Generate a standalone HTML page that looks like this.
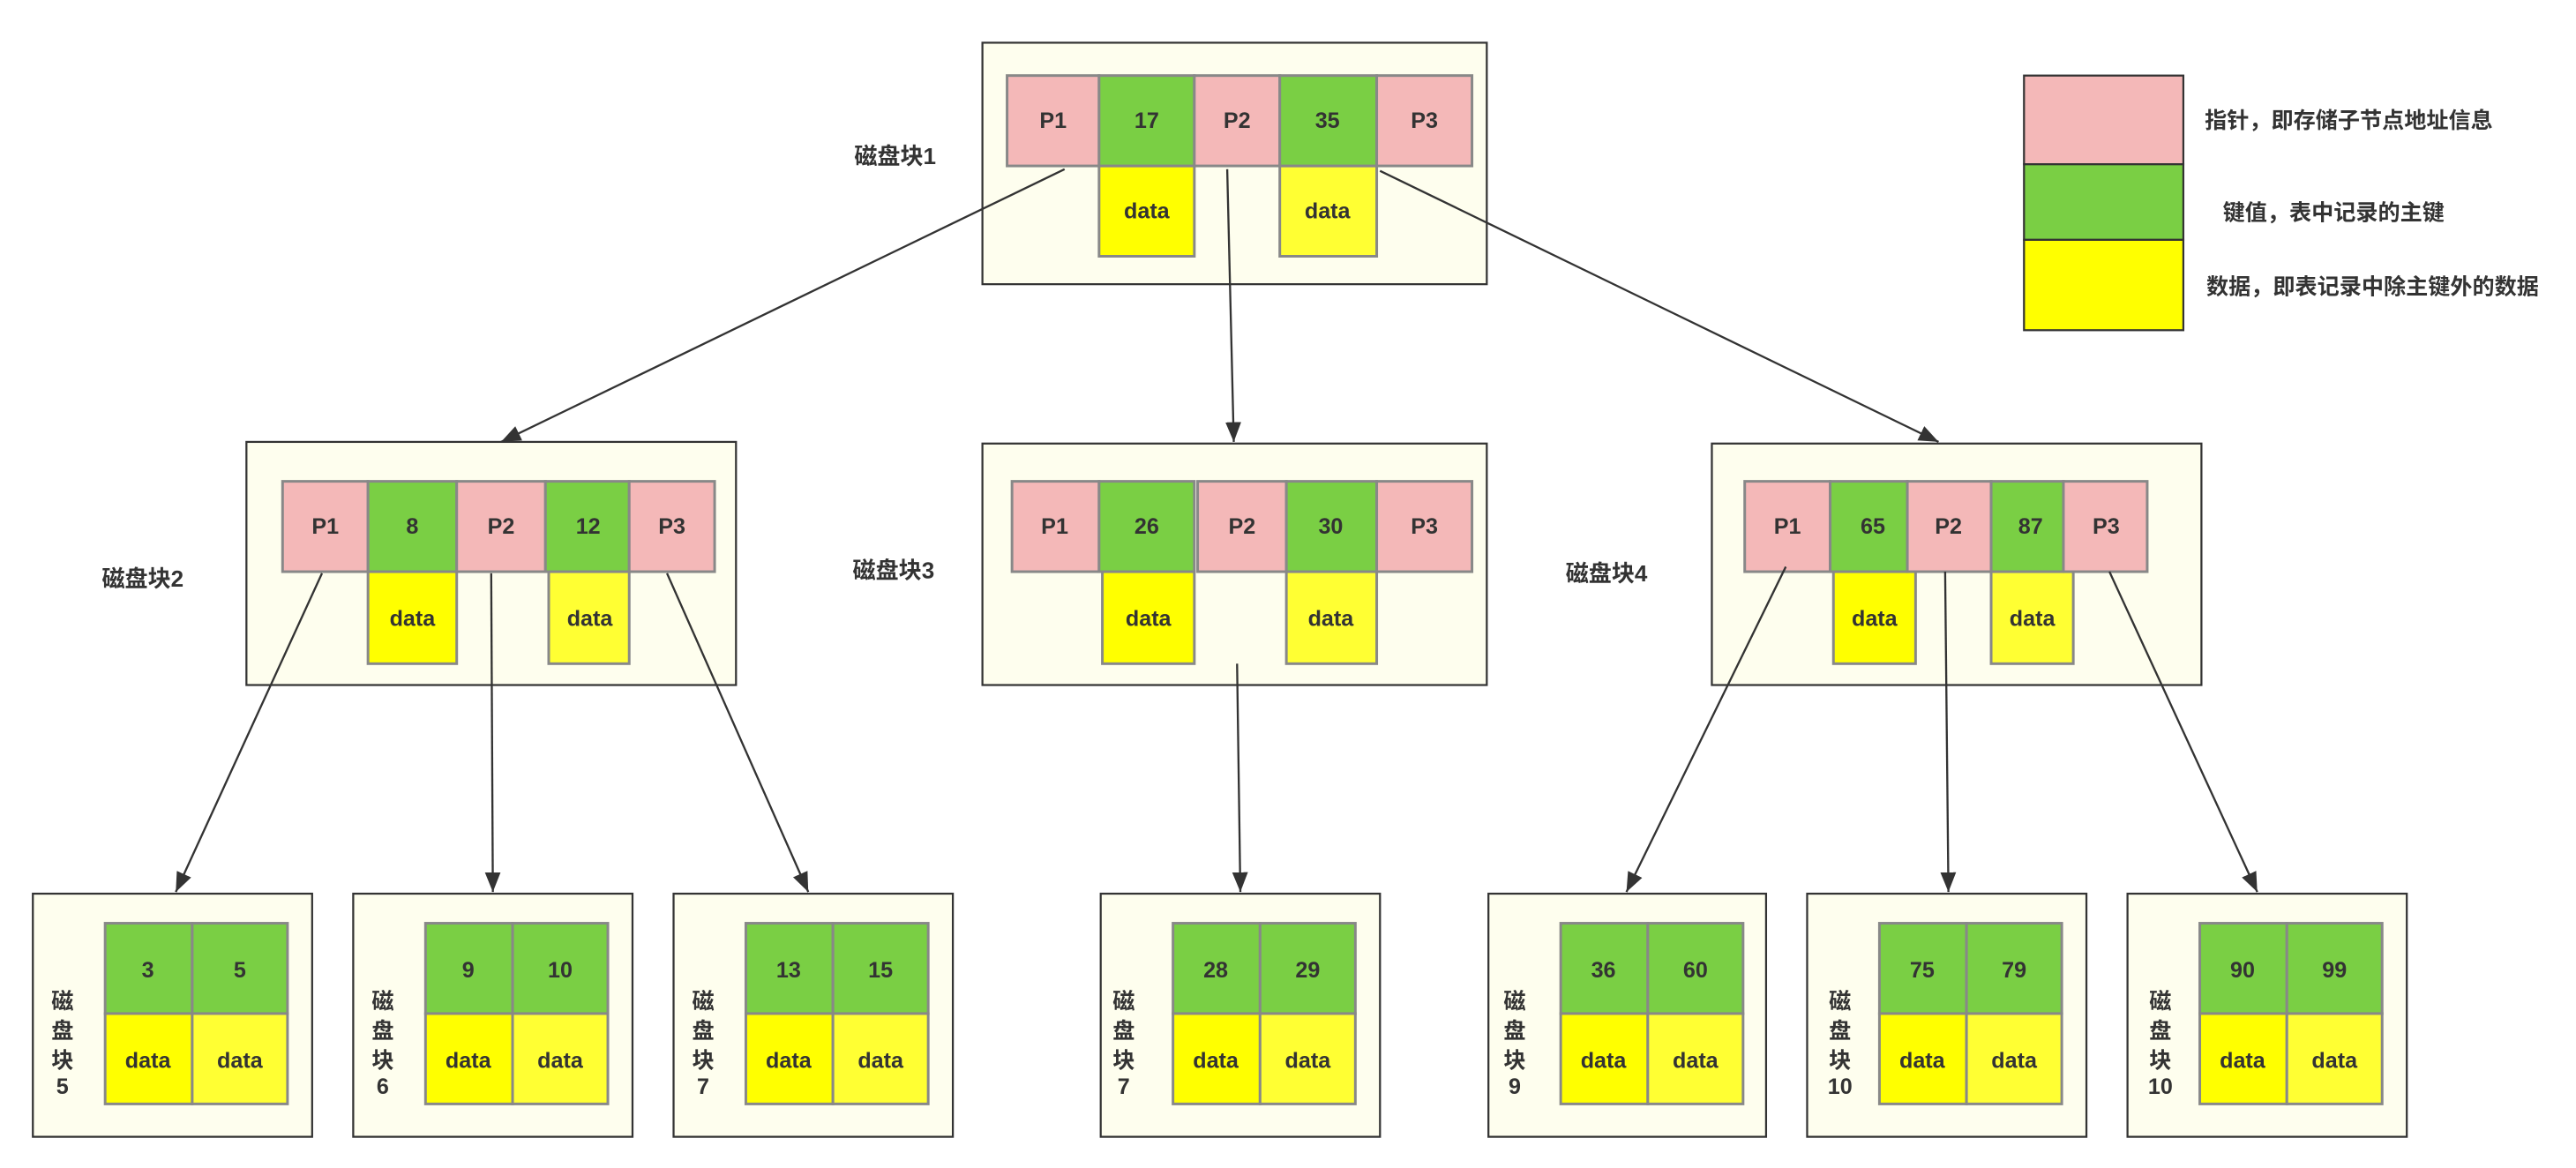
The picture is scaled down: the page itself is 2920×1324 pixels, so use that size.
<!DOCTYPE html>
<html><head><meta charset="utf-8"><style>
html,body{margin:0;padding:0;background:#fff;width:2920px;height:1324px;overflow:hidden}
svg{display:block}
text{font-family:"Liberation Sans","Noto Sans CJK SC",sans-serif;font-weight:bold;fill:#333;font-size:13.5px}
.box{fill:#fefeee;stroke:#333;stroke-width:1.2}
.p{fill:#f4b8b8;stroke:#888;stroke-width:1.6}
.g{fill:#7acf44;stroke:#888;stroke-width:1.6}
.y{fill:#ffff00;stroke:#888;stroke-width:1.6}
.y2{fill:#ffff33;stroke:#888;stroke-width:1.6}
.ln{stroke:#333;stroke-width:1.25;fill:none;marker-end:url(#a)}
.lg{stroke:#333;stroke-width:1.2}
</style></head><body>
<svg width="2920" height="1324" viewBox="0 0 1568 711" preserveAspectRatio="none">
<defs><marker id="a" viewBox="0 0 10 10" refX="10" refY="5" markerWidth="12" markerHeight="12" markerUnits="userSpaceOnUse" orient="auto"><path d="M0,1 L10,5 L0,9 z" fill="#333"/></marker></defs>

<rect class="box" x="598" y="26" width="307" height="147"/>
<rect class="y" x="669" y="101" width="58" height="55"/><rect class="y2" x="779" y="101" width="59" height="55"/>
<rect class="p" x="613" y="46" width="56" height="55"/><rect class="g" x="669" y="46" width="58" height="55"/><rect class="p" x="727" y="46" width="52" height="55"/><rect class="g" x="779" y="46" width="59" height="55"/><rect class="p" x="838" y="46" width="58" height="55"/>
<g text-anchor="middle"><text x="641" y="78">P1</text><text x="698" y="78">17</text><text x="753" y="78">P2</text><text x="808" y="78">35</text><text x="867" y="78">P3</text><text x="698" y="133">data</text><text x="808" y="133">data</text></g>
<text x="520" y="100" style="font-size:14px">磁盘块1</text>

<rect class="p lg" x="1232" y="46" width="97" height="54"/><rect class="g lg" x="1232" y="100" width="97" height="46"/><rect class="y lg" x="1232" y="146" width="97" height="55"/>
<text x="1342" y="78">指针，即存储子节点地址信息</text>
<text x="1353" y="134">键值，表中记录的主键</text>
<text x="1343" y="179">数据，即表记录中除主键外的数据</text>

<rect class="box" x="150" y="269" width="298" height="148"/>
<rect class="y" x="224" y="348" width="54" height="56"/><rect class="y2" x="334" y="348" width="49" height="56"/>
<rect class="p" x="172" y="293" width="52" height="55"/><rect class="g" x="224" y="293" width="54" height="55"/><rect class="p" x="278" y="293" width="54" height="55"/><rect class="g" x="332" y="293" width="51" height="55"/><rect class="p" x="383" y="293" width="52" height="55"/>
<g text-anchor="middle"><text x="198" y="325">P1</text><text x="251" y="325">8</text><text x="305" y="325">P2</text><text x="358" y="325">12</text><text x="409" y="325">P3</text><text x="251" y="381">data</text><text x="359" y="381">data</text></g>
<text x="62" y="357" style="font-size:14px">磁盘块2</text>

<rect class="box" x="598" y="270" width="307" height="147"/>
<rect class="y" x="671" y="348" width="56" height="56"/><rect class="y2" x="783" y="348" width="55" height="56"/>
<rect class="p" x="616" y="293" width="53" height="55"/><rect class="g" x="669" y="293" width="58" height="55"/><rect class="p" x="729" y="293" width="54" height="55"/><rect class="g" x="783" y="293" width="55" height="55"/><rect class="p" x="838" y="293" width="58" height="55"/>
<g text-anchor="middle"><text x="642" y="325">P1</text><text x="698" y="325">26</text><text x="756" y="325">P2</text><text x="810" y="325">30</text><text x="867" y="325">P3</text><text x="699" y="381">data</text><text x="810" y="381">data</text></g>
<text x="519" y="352" style="font-size:14px">磁盘块3</text>

<rect class="box" x="1042" y="270" width="298" height="147"/>
<rect class="y" x="1116" y="348" width="50" height="56"/><rect class="y2" x="1212" y="348" width="50" height="56"/>
<rect class="p" x="1062" y="293" width="52" height="55"/><rect class="g" x="1114" y="293" width="47" height="55"/><rect class="p" x="1161" y="293" width="51" height="55"/><rect class="g" x="1212" y="293" width="44" height="55"/><rect class="p" x="1256" y="293" width="51" height="55"/>
<g text-anchor="middle"><text x="1088" y="325">P1</text><text x="1140" y="325">65</text><text x="1186" y="325">P2</text><text x="1236" y="325">87</text><text x="1282" y="325">P3</text><text x="1141" y="381">data</text><text x="1237" y="381">data</text></g>
<text x="953" y="354" style="font-size:14px">磁盘块4</text>

<g>
<rect class="box" x="20" y="544" width="170" height="148"/>
<rect class="g" x="64" y="562" width="53" height="55"/><rect class="g" x="117" y="562" width="58" height="55"/><rect class="y" x="64" y="617" width="53" height="55"/><rect class="y2" x="117" y="617" width="58" height="55"/>
<g text-anchor="middle"><text x="90" y="595">3</text><text x="146" y="595">5</text><text x="90" y="650">data</text><text x="146" y="650">data</text><text x="38" y="614">磁</text><text x="38" y="632">盘</text><text x="38" y="650">块</text><text x="38" y="666">5</text></g>
</g>
<g>
<rect class="box" x="215" y="544" width="170" height="148"/>
<rect class="g" x="259" y="562" width="53" height="55"/><rect class="g" x="312" y="562" width="58" height="55"/><rect class="y" x="259" y="617" width="53" height="55"/><rect class="y2" x="312" y="617" width="58" height="55"/>
<g text-anchor="middle"><text x="285" y="595">9</text><text x="341" y="595">10</text><text x="285" y="650">data</text><text x="341" y="650">data</text><text x="233" y="614">磁</text><text x="233" y="632">盘</text><text x="233" y="650">块</text><text x="233" y="666">6</text></g>
</g>
<g>
<rect class="box" x="410" y="544" width="170" height="148"/>
<rect class="g" x="454" y="562" width="53" height="55"/><rect class="g" x="507" y="562" width="58" height="55"/><rect class="y" x="454" y="617" width="53" height="55"/><rect class="y2" x="507" y="617" width="58" height="55"/>
<g text-anchor="middle"><text x="480" y="595">13</text><text x="536" y="595">15</text><text x="480" y="650">data</text><text x="536" y="650">data</text><text x="428" y="614">磁</text><text x="428" y="632">盘</text><text x="428" y="650">块</text><text x="428" y="666">7</text></g>
</g>
<g>
<rect class="box" x="670" y="544" width="170" height="148"/>
<rect class="g" x="714" y="562" width="53" height="55"/><rect class="g" x="767" y="562" width="58" height="55"/><rect class="y" x="714" y="617" width="53" height="55"/><rect class="y2" x="767" y="617" width="58" height="55"/>
<g text-anchor="middle"><text x="740" y="595">28</text><text x="796" y="595">29</text><text x="740" y="650">data</text><text x="796" y="650">data</text><text x="684" y="614">磁</text><text x="684" y="632">盘</text><text x="684" y="650">块</text><text x="684" y="666">7</text></g>
</g>
<g>
<rect class="box" x="906" y="544" width="169" height="148"/>
<rect class="g" x="950" y="562" width="53" height="55"/><rect class="g" x="1003" y="562" width="58" height="55"/><rect class="y" x="950" y="617" width="53" height="55"/><rect class="y2" x="1003" y="617" width="58" height="55"/>
<g text-anchor="middle"><text x="976" y="595">36</text><text x="1032" y="595">60</text><text x="976" y="650">data</text><text x="1032" y="650">data</text><text x="922" y="614">磁</text><text x="922" y="632">盘</text><text x="922" y="650">块</text><text x="922" y="666">9</text></g>
</g>
<g>
<rect class="box" x="1100" y="544" width="170" height="148"/>
<rect class="g" x="1144" y="562" width="53" height="55"/><rect class="g" x="1197" y="562" width="58" height="55"/><rect class="y" x="1144" y="617" width="53" height="55"/><rect class="y2" x="1197" y="617" width="58" height="55"/>
<g text-anchor="middle"><text x="1170" y="595">75</text><text x="1226" y="595">79</text><text x="1170" y="650">data</text><text x="1226" y="650">data</text><text x="1120" y="614">磁</text><text x="1120" y="632">盘</text><text x="1120" y="650">块</text><text x="1120" y="666">10</text></g>
</g>
<g>
<rect class="box" x="1295" y="544" width="170" height="148"/>
<rect class="g" x="1339" y="562" width="53" height="55"/><rect class="g" x="1392" y="562" width="58" height="55"/><rect class="y" x="1339" y="617" width="53" height="55"/><rect class="y2" x="1392" y="617" width="58" height="55"/>
<g text-anchor="middle"><text x="1365" y="595">90</text><text x="1421" y="595">99</text><text x="1365" y="650">data</text><text x="1421" y="650">data</text><text x="1315" y="614">磁</text><text x="1315" y="632">盘</text><text x="1315" y="650">块</text><text x="1315" y="666">10</text></g>
</g>

<line class="ln" x1="648" y1="103" x2="305" y2="269"/>
<line class="ln" x1="747" y1="103" x2="751" y2="269"/>
<line class="ln" x1="840" y1="104" x2="1180" y2="269"/>
<line class="ln" x1="196" y1="349" x2="107" y2="543"/>
<line class="ln" x1="299" y1="349" x2="300" y2="543"/>
<line class="ln" x1="406" y1="349" x2="492" y2="543"/>
<line class="ln" x1="753" y1="404" x2="755" y2="543"/>
<line class="ln" x1="1087" y1="345" x2="990" y2="543"/>
<line class="ln" x1="1184" y1="348" x2="1186" y2="543"/>
<line class="ln" x1="1284" y1="348" x2="1374" y2="543"/>
</svg>
</body></html>
